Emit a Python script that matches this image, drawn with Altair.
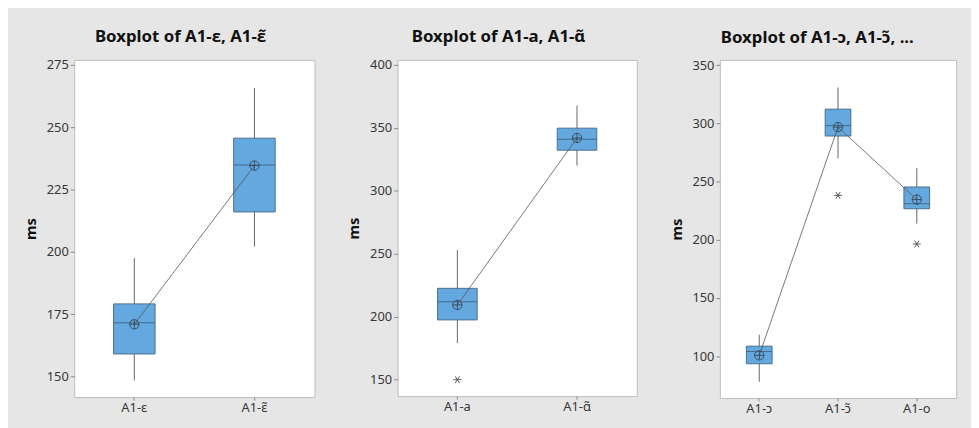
import altair as alt
import pandas as pd

# ---- Panel 1 ----
p1_cats = ["A1-ɛ", "A1-ɛ̃"]
p1_low = [148.4, 202.1]
p1_q1 = [159.0, 216.0]
p1_med = [171.5, 234.8]
p1_q3 = [179.1, 245.6]
p1_high = [197.5, 265.7]
p1_mean = [170.9, 234.6]
p1_out_cat = []
p1_out_val = []
p1_domain = [141.7, 277.0]
p1_ticks = [150, 175, 200, 225, 250, 275]
p1_title = "Boxplot of A1-ɛ, A1-ɛ̃"

# ---- Panel 2 ----
p2_cats = ["A1-a", "A1-ɑ̃"]
p2_low = [179.1, 320.2]
p2_q1 = [197.5, 332.3]
p2_med = [211.9, 341.0]
p2_q3 = [222.6, 349.8]
p2_high = [253.0, 367.7]
p2_mean = [209.4, 342.0]
p2_out_cat = ["A1-a"]
p2_out_val = [150.0]
p2_domain = [137.0, 404.0]
p2_ticks = [150, 200, 250, 300, 350, 400]
p2_title = "Boxplot of A1-a, A1-ɑ̃"

# ---- Panel 3 ----
p3_cats = ["A1-ɔ", "A1-ɔ̃", "A1-o"]
p3_low = [77.9, 270.0, 214.0]
p3_q1 = [93.5, 289.2, 226.7]
p3_med = [104.0, 298.2, 231.0]
p3_q3 = [108.6, 312.3, 245.4]
p3_high = [118.4, 330.9, 261.6]
p3_mean = [100.7, 296.9, 234.6]
p3_out_cat = ["A1-ɔ̃", "A1-o"]
p3_out_val = [238.2, 196.4]
p3_domain = [64.0, 354.6]
p3_ticks = [100, 150, 200, 250, 300, 350]
p3_title = "Boxplot of A1-ɔ, A1-ɔ̃, ..."

FONT = "Noto Sans"
BOX_FILL = "#63a8df"
BOX_STROKE = "#4d6e8e"
MEAN_SHAPE = "M-1,0A1,1,0,1,1,1,0A1,1,0,1,1,-1,0ZM-1,0L1,0M0,-1L0,1"
STAR_SHAPE = "M-1,0L1,0M-0.55,-0.85L0.55,0.85M-0.55,0.85L0.55,-0.85"


def panel(cats, low, q1, med, q3, high, mean, out_cat, out_val, domain, ticks,
          title, width, height, box_w, title_dx):
    df = pd.DataFrame({"cat": cats, "low": low, "q1": q1, "med": med,
                       "q3": q3, "high": high, "mean": mean,
                       "order": list(range(len(cats)))})
    odf = pd.DataFrame({"cat": out_cat, "val": out_val})

    xs = alt.Scale(type="band", domain=cats, paddingInner=0, paddingOuter=0)
    ys = alt.Scale(domain=domain, nice=False, zero=False)
    x = alt.X("cat:N", scale=xs, sort=cats,
              axis=alt.Axis(title=None, labelAngle=0, grid=False, domain=False,
                            tickSize=3, labelPadding=2))
    yax = alt.Axis(title="ms", values=ticks, grid=False, domain=False,
                   minExtent=30, maxExtent=30)

    base = alt.Chart(df)
    whisk = base.mark_rule(color="#666666", strokeWidth=1).encode(
        x=x, y=alt.Y("low:Q", scale=ys, axis=yax), y2="high:Q")
    box = base.mark_bar(size=box_w, color=BOX_FILL, stroke=BOX_STROKE,
                        strokeWidth=1).encode(x=x, y=alt.Y("q1:Q", scale=ys),
                                              y2="q3:Q")
    median = base.mark_tick(size=box_w, thickness=1, color="#3d5166").encode(
        x=x, y=alt.Y("med:Q", scale=ys))
    mline = base.mark_line(color="#555555", strokeWidth=0.8).encode(
        x=x, y=alt.Y("mean:Q", scale=ys), order="order:Q")
    mpt = base.mark_point(shape=MEAN_SHAPE, size=90, filled=False,
                          color="#3d4d5d", strokeWidth=1, opacity=1).encode(
        x=x, y=alt.Y("mean:Q", scale=ys))
    layers = [whisk, box, median, mline, mpt]
    if len(out_cat):
        outl = alt.Chart(odf).mark_point(shape=STAR_SHAPE, size=64,
                                         filled=False, color="#555555",
                                         strokeWidth=1, opacity=1).encode(
            x=alt.X("cat:N", scale=xs, sort=cats),
            y=alt.Y("val:Q", scale=ys))
        layers.append(outl)
    return alt.layer(*layers).properties(
        width=width, height=height,
        title=alt.TitleParams(title, fontSize=17, font=FONT, fontWeight="bold",
                              color="#111111", dx=title_dx, offset=13,
                              frame="group", anchor="middle"))


c1 = panel(p1_cats, p1_low, p1_q1, p1_med, p1_q3, p1_high, p1_mean,
           p1_out_cat, p1_out_val, p1_domain, p1_ticks, p1_title,
           243, 341, 42, -14)
c2 = panel(p2_cats, p2_low, p2_q1, p2_med, p2_q3, p2_high, p2_mean,
           p2_out_cat, p2_out_val, p2_domain, p2_ticks, p2_title,
           242, 340, 40, -19)
c3 = panel(p3_cats, p3_low, p3_q1, p3_med, p3_q3, p3_high, p3_mean,
           p3_out_cat, p3_out_val, p3_domain, p3_ticks, p3_title,
           239, 342, 26, -21)

chart = alt.hconcat(c1, c2, c3, spacing=31).properties(
    background="#e6e6e6",
    padding={"left": 15, "top": 17, "right": 14, "bottom": 30},
).configure_view(
    stroke="#bdbdbd", strokeWidth=1, fill="white"
).configure_axis(
    labelFont=FONT, labelFontSize=13, labelColor="#383838",
    tickColor="#888888", tickSize=4, labelPadding=2,
    titleFont=FONT, titleFontSize=15, titleFontWeight="bold",
    titleColor="#111111", titlePadding=6,
)

chart.save("out.html", embed_options={"renderer": "svg", "actions": False})
